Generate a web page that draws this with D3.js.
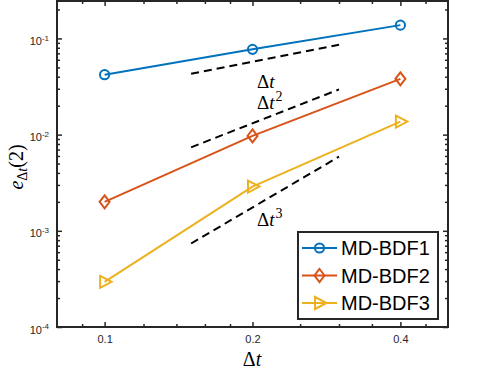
<!DOCTYPE html>
<html>
<head>
<meta charset="utf-8">
<style>
  body { margin: 0; background: #fff; }
  svg { display: block; }
  .tick text { font-family: 'Liberation Sans', Arial, sans-serif; fill: #262626; }
  .math { font-family: 'Liberation Serif', 'DejaVu Serif', serif; fill: #000; }
</style>
</head>
<body>
<div id="chart"></div>
<script src="https://cdn.jsdelivr.net/npm/d3@7"></script>
<script>
// step sizes and errors
const dt = [0.1, 0.2, 0.4];
const bdf1 = [0.042, 0.077, 0.1375];
const bdf2 = [0.0020, 0.0097, 0.038];
const bdf3 = [0.000295, 0.00288, 0.01365];
const seriesNames = ['MD-BDF1', 'MD-BDF2', 'MD-BDF3'];

// reference slopes
const refX = [0.15, 0.3];
const ref1 = [0.043, 0.086];
const ref2 = [0.00738, 0.0295];
const ref3 = [0.000738, 0.0059];

const xTicks = [0.1, 0.2, 0.4];
const xMinor = [0.09, 0.12, 0.14, 0.16, 0.18, 0.25, 0.3, 0.35, 0.45];
const yTicks = [1e-4, 1e-3, 1e-2, 1e-1];

const W = 498, H = 374;
const margin = {left: 57, right: 50, top: 1, bottom: 47};
const width = W - margin.left - margin.right;
const height = H - margin.top - margin.bottom;

const colors = ['#0072BD', '#D95319', '#EDB120'];
const axisColor = '#262626';

const svg = d3.select('#chart').append('svg')
  .attr('width', W).attr('height', H);
const g = svg.append('g')
  .attr('transform', `translate(${margin.left},${margin.top})`);

const x = d3.scaleLog().domain([0.08, 0.5]).range([0, width]);
const y = d3.scaleLog().domain([1e-4, 0.245]).range([height, 0]);

// minor y ticks: 2..9 in each decade
const yMinor = [];
[1e-4, 1e-3, 1e-2, 1e-1].forEach(d => {
  for (let k = 2; k <= 9; k++) {
    const v = d * k;
    if (v <= 0.245) yMinor.push(v);
  }
});

function styleAxis(sel) {
  sel.select('.domain').remove();
  sel.selectAll('.tick line').attr('stroke', axisColor).attr('stroke-width', 1.5);
}

// minor ticks
g.append('g').attr('transform', `translate(0,${height})`)
  .call(d3.axisBottom(x).tickValues(xMinor).tickSize(-3).tickFormat(''))
  .call(styleAxis);
g.append('g')
  .call(d3.axisTop(x).tickValues(xMinor).tickSize(-3).tickFormat(''))
  .call(styleAxis);
g.append('g')
  .call(d3.axisLeft(y).tickValues(yMinor).tickSize(-3).tickFormat(''))
  .call(styleAxis);
g.append('g').attr('transform', `translate(${width},0)`)
  .call(d3.axisRight(y).tickValues(yMinor).tickSize(-3).tickFormat(''))
  .call(styleAxis);

// major ticks
const xAxis = g.append('g').attr('transform', `translate(0,${height})`)
  .call(d3.axisBottom(x).tickValues(xTicks).tickSize(-5).tickPadding(8)
    .tickFormat(d3.format('.1f')))
  .call(styleAxis);
xAxis.selectAll('text').attr('font-size', 11);

g.append('g')
  .call(d3.axisTop(x).tickValues(xTicks).tickSize(-5).tickFormat(''))
  .call(styleAxis);
g.append('g').attr('transform', `translate(${width},0)`)
  .call(d3.axisRight(y).tickValues(yTicks).tickSize(-5).tickFormat(''))
  .call(styleAxis);

const yAxis = g.append('g')
  .call(d3.axisLeft(y).tickValues(yTicks).tickSize(-5).tickPadding(8).tickFormat(''))
  .call(styleAxis);
yAxis.selectAll('.tick text').each(function(d) {
  const t = d3.select(this).attr('font-size', 11).attr('dy', '0.55em');
  t.append('tspan').text('10');
  t.append('tspan').attr('font-size', 8).attr('dy', '-0.55em')
    .text(String(Math.round(Math.log10(d))));
});

// frame
g.append('rect')
  .attr('width', width).attr('height', height)
  .attr('fill', 'none').attr('stroke', axisColor).attr('stroke-width', 2);

// reference lines
const refLine = d3.line().x(d => x(d[0])).y(d => y(d[1]));
[ref1, ref2, ref3].forEach(r => {
  g.append('path')
    .attr('d', refLine(refX.map((v, i) => [v, r[i]])))
    .attr('fill', 'none').attr('stroke', '#000')
    .attr('stroke-width', 2).attr('stroke-dasharray', '8,5');
});

// series
const series = [bdf1, bdf2, bdf3];
const line = d3.line().x(d => x(d[0])).y(d => y(d[1]));

function marker(sel, i, cx, cy) {
  const c = colors[i];
  if (i === 0) {
    sel.append('circle').attr('cx', cx).attr('cy', cy).attr('r', 4.6)
      .attr('fill', 'none').attr('stroke', c).attr('stroke-width', 2);
  } else if (i === 1) {
    sel.append('path')
      .attr('d', `M${cx},${cy - 6.5}L${cx + 5},${cy}L${cx},${cy + 6.5}L${cx - 5},${cy}Z`)
      .attr('fill', 'none').attr('stroke', c).attr('stroke-width', 2);
  } else {
    sel.append('path')
      .attr('d', `M${cx - 4.5},${cy - 6}L${cx + 7},${cy}L${cx - 4.5},${cy + 6}Z`)
      .attr('fill', 'none').attr('stroke', c).attr('stroke-width', 2)
      .attr('stroke-linejoin', 'miter');
  }
}

series.forEach((s, i) => {
  const pts = dt.map((v, k) => [v, s[k]]);
  g.append('path').attr('d', line(pts))
    .attr('fill', 'none').attr('stroke', colors[i]).attr('stroke-width', 2);
  pts.forEach(p => marker(g, i, x(p[0]), y(p[1])));
});

// slope labels
function deltaT(sel, px, py, sup) {
  const t = sel.append('text').attr('class', 'math')
    .attr('x', px).attr('y', py).attr('font-size', 19);
  t.append('tspan').text('\u0394');
  t.append('tspan').attr('font-style', 'italic').text('t');
  if (sup) t.append('tspan').attr('font-size', 14).attr('dy', -8).attr('dx', 1).text(sup);
  return t;
}
deltaT(svg, 257, 88, null);
deltaT(svg, 257, 109, '2');
deltaT(svg, 257, 226, '3');

// legend
const lg = svg.append('g');
lg.append('rect').attr('x', 298).attr('y', 232).attr('width', 140).attr('height', 87)
  .attr('fill', '#fff').attr('stroke', axisColor).attr('stroke-width', 2);
seriesNames.forEach((n, i) => {
  const cy = 248 + i * 27.5;
  lg.append('line').attr('x1', 302).attr('x2', 337).attr('y1', cy).attr('y2', cy)
    .attr('stroke', colors[i]).attr('stroke-width', 2);
  marker(lg, i, 319.5, cy);
  lg.append('text').attr('x', 341).attr('y', cy + 7)
    .attr('font-family', "'Liberation Sans', Arial, sans-serif")
    .attr('font-size', 20).attr('fill', '#000').text(n);
});

// axis labels
const xl = svg.append('text').attr('class', 'math')
  .attr('x', 252).attr('y', 366).attr('text-anchor', 'middle').attr('font-size', 20);
xl.append('tspan').text('\u0394');
xl.append('tspan').attr('font-style', 'italic').text('t');

const yl = svg.append('text').attr('class', 'math')
  .attr('transform', 'translate(23,167) rotate(-90)')
  .attr('text-anchor', 'middle').attr('font-size', 20);
yl.append('tspan').attr('font-style', 'italic').text('e');
yl.append('tspan').attr('font-size', 14).attr('dy', 4).text('\u0394');
yl.append('tspan').attr('font-size', 14).attr('font-style', 'italic').text('t');
yl.append('tspan').attr('dy', -4).text('(2)');
</script>
</body>
</html>
